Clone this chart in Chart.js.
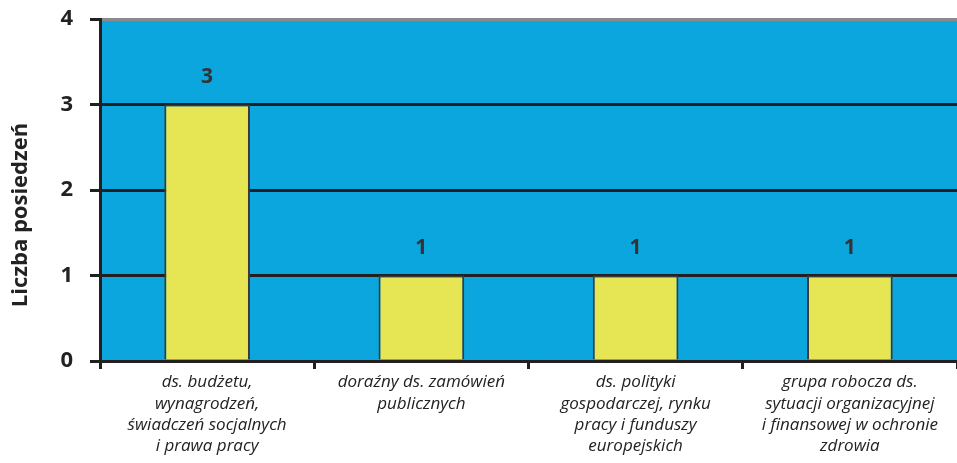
<!DOCTYPE html>
<html>
<head>
<meta charset="utf-8">
<script src="https://cdn.jsdelivr.net/npm/chart.js@4/dist/chart.umd.min.js"></script>
<style>
    html, body { margin: 0; padding: 0; background: #fff; }
    #wrap { width: 957px; height: 463px; }
</style>
</head>
<body>
<div id="wrap"><canvas id="myChart"></canvas></div>
<script>
// Data
const categories = [
    ['ds. budżetu,', 'wynagrodzeń,', 'świadczeń socjalnych', 'i prawa pracy'],
    ['doraźny ds. zamówień', 'publicznych'],
    ['ds. polityki', 'gospodarczej, rynku', 'pracy i funduszy', 'europejskich'],
    ['grupa robocza ds.', 'sytuacji organizacyjnej', 'i finansowej w ochronie', 'zdrowia']
];
const meetings = [3, 1, 1, 1];
const yTicks = [0, 1, 2, 3, 4];
const yTitle = 'Liczba posiedzeń';

const font = '"Open Sans", "DejaVu Sans", sans-serif';

// Plot background
const plotBackground = {
    id: 'plotBackground',
    beforeDraw(chart) {
        const { ctx, chartArea: a } = chart;
        ctx.save();
        ctx.fillStyle = '#0ba6dd';
        ctx.fillRect(a.left, a.top, a.right - a.left, a.bottom - a.top);
        ctx.restore();
    }
};

// Value labels above bars + y title (sits a bit below the middle)
const valueLabels = {
    id: 'valueLabels',
    afterDatasetsDraw(chart) {
        const { ctx } = chart;
        const meta = chart.getDatasetMeta(0);
        ctx.save();
        ctx.fillStyle = '#333333';
        ctx.font = 'bold 21px ' + font;
        ctx.textAlign = 'center';
        ctx.textBaseline = 'middle';
        meta.data.forEach((bar, i) => {
            ctx.fillText(meetings[i], bar.x, bar.y - 27);
        });
        ctx.restore();

        ctx.save();
        ctx.translate(21, 215);
        ctx.rotate(-Math.PI / 2);
        ctx.fillStyle = '#222222';
        ctx.font = 'bold 22px ' + font;
        ctx.textAlign = 'center';
        ctx.textBaseline = 'middle';
        ctx.fillText(yTitle, 0, 0);
        ctx.restore();
    }
};

new Chart(document.getElementById('myChart'), {
    type: 'bar',
    data: {
        labels: categories,
        datasets: [{
            data: meetings,
            backgroundColor: '#e6e655',
            borderColor: '#3a3a3a',
            borderWidth: 2,
            categoryPercentage: 1,
            barPercentage: 0.4
        }]
    },
    options: {
        responsive: true,
        maintainAspectRatio: false,
        animation: false,
        layout: { padding: { top: 19, right: 0, left: 0, bottom: 0 } },
        plugins: {
            legend: { display: false },
            tooltip: { enabled: false }
        },
        scales: {
            x: {
                afterFit: s => { s.height = 102; s.paddingLeft = 0; s.paddingRight = 0; },
                border: { color: '#231f20', width: 3 },
                grid: {
                    offset: true,
                    drawOnChartArea: false,
                    tickLength: 8,
                    tickColor: '#231f20',
                    tickWidth: 3
                },
                ticks: {
                    color: '#222222',
                    padding: 3,
                    maxRotation: 0,
                    autoSkip: false,
                    font: { family: font, size: 17, style: 'italic', lineHeight: 1.25 }
                }
            },
            y: {
                min: 0,
                max: 4,
                afterFit: s => { s.width = 100; s.paddingTop = 0; s.paddingBottom = 0; },
                afterBuildTicks: s => { s.ticks = yTicks.map(v => ({ value: v })); },
                border: { color: '#231f20', width: 3 },
                grid: {
                    color: c => c.tick && c.tick.value === 4 ? '#8a8a8a' : '#231f20',
                    lineWidth: 3,
                    tickLength: 10,
                    tickColor: '#231f20',
                    tickWidth: 3
                },
                ticks: {
                    color: '#222222',
                    padding: 17,
                    font: { family: font, size: 22, weight: 'bold' }
                }
            }
        }
    },
    plugins: [plotBackground, valueLabels]
});
</script>
</body>
</html>
